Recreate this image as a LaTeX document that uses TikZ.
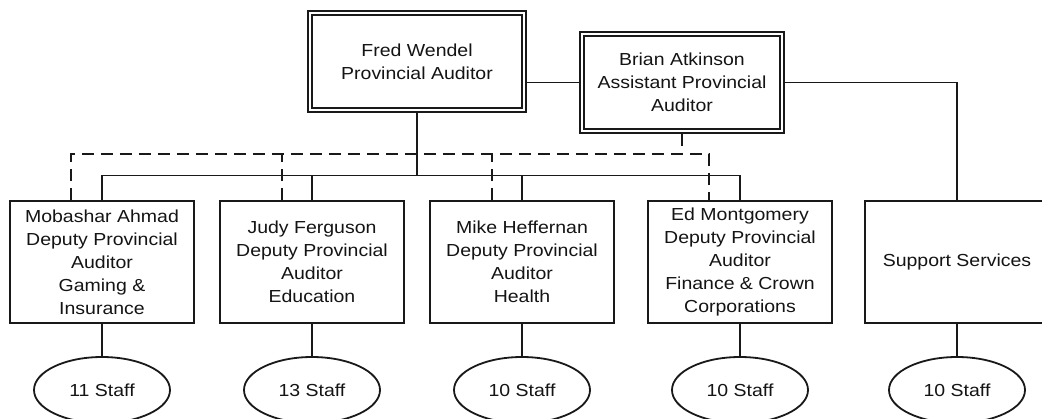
\documentclass[tikz,border=0pt]{standalone}
\usepackage{fontspec}
\setmainfont{Liberation Sans}[FakeStretch=1.12]
\usetikzlibrary{shapes.geometric,calc}
\begin{document}
\begin{tikzpicture}[x=1pt,y=-1pt,
  every node/.style={font=\fontsize{17.4}{23}\selectfont, align=center, text=black!92},
  conn/.style={line width=1.8pt, draw=black!90},
  dashconn/.style={line width=1.8pt, draw=black!90, dash pattern=on 12pt off 7pt},
  topbox/.style={draw=black!90, line width=1.4pt, double, double distance=2.4pt, minimum width=214pt, minimum height=97pt, inner sep=0pt, outer sep=2.6pt},
  depbox/.style={draw=black!90, line width=1.8pt, minimum width=184pt, minimum height=122pt, inner sep=0pt},
  staff/.style={draw=black!90, ellipse, line width=1.8pt, minimum width=136pt, minimum height=66pt, inner sep=0pt}]
\clip (0,0) rectangle (1042,418);
\fill[white] (0,0) rectangle (1042,418);
\coordinate (dashy) at (0,154);
\coordinate (busy) at (0,175.5);
% top boxes
\node[topbox] (fred) at (417,61.5) {Fred Wendel\\Provincial Auditor};
\node[topbox, minimum width=200pt] (brian) at (682,82.5) {Brian Atkinson\\Assistant Provincial\\Auditor};
% deputy boxes
\node[depbox] (mob) at (102,262) {Mobashar Ahmad\\Deputy Provincial\\Auditor\\Gaming \&\\Insurance};
\node[depbox] (judy) at (312,262) {Judy Ferguson\\Deputy Provincial\\Auditor\\Education};
\node[depbox] (mike) at (522,262) {Mike Heffernan\\Deputy Provincial\\Auditor\\Health};
\node[depbox] (ed) at (740,262) {Ed Montgomery\\Deputy Provincial\\Auditor\\Finance \& Crown\\Corporations};
\node[depbox] (sup) at (957,262) {Support Services};
% staff ellipses
\node[staff] (s1) at (102,390) {11 Staff};
\node[staff] (s2) at (312,390) {13 Staff};
\node[staff] (s3) at (522,390) {10 Staff};
\node[staff] (s4) at (740,390) {10 Staff};
\node[staff] (s5) at (957,390) {10 Staff};
% dashed drop points
\coordinate (mobd) at ($(mob.north)+(-31,0)$);
\coordinate (judyd) at ($(judy.north)+(-30,0)$);
\coordinate (miked) at ($(mike.north)+(-30,0)$);
\coordinate (edd) at ($(ed.north)+(-31,0)$);
% solid connectors
\draw[conn] (fred.east |- brian.west) -- (brian.west);
\draw[conn] (brian.east) -| (sup.north);
\draw[conn] (fred.south) -- (fred.south |- busy);
\draw[conn] (mob.north) -- (mob.north |- busy) -- (ed.north |- busy) -- (ed.north);
\draw[conn] (judy.north) -- (judy.north |- busy);
\draw[conn] (mike.north) -- (mike.north |- busy);
% dashed connectors
\draw[dashconn] (brian.south) -- (brian.south |- dashy);
\draw[dashconn] (mobd) -- (mobd |- dashy) -- (edd |- dashy) -- (edd);
\draw[dashconn] (judyd) -- (judyd |- dashy);
\draw[dashconn] (miked) -- (miked |- dashy);
% staff connectors
\draw[conn] (mob.south) -- (s1.north);
\draw[conn] (judy.south) -- (s2.north);
\draw[conn] (mike.south) -- (s3.north);
\draw[conn] (ed.south) -- (s4.north);
\draw[conn] (sup.south) -- (s5.north);
\end{tikzpicture}
\end{document}
